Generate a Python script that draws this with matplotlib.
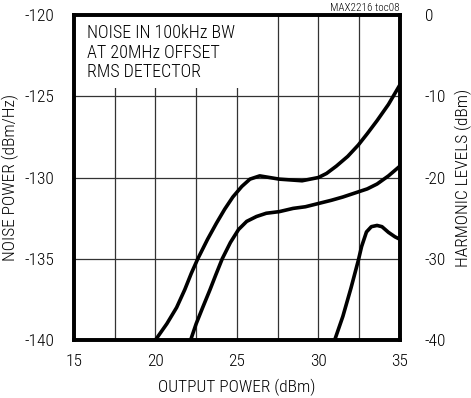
import numpy as np
import matplotlib.pyplot as plt
from matplotlib.patches import Rectangle

plt.rcParams['font.family'] = ['Roboto Condensed', 'DejaVu Sans']
plt.rcParams['font.weight'] = 'light'
plt.rcParams['axes.labelweight'] = 'light'
plt.rcParams['axes.unicode_minus'] = False

# output power (dBm) vs noise power (dBm/Hz), upper trace
upper_x = [20.0, 20.7, 21.3, 21.8, 22.2, 22.6, 23.2, 23.75, 24.25, 24.75, 25.3,
           25.8, 26.4, 27.0, 27.6, 28.3, 29.0, 30.0, 30.5, 31.1, 31.8, 32.45,
           33.0, 33.6, 34.3, 35.0]
upper_y = [-140.0, -139.0, -138.0, -136.9, -135.9, -135.0, -133.8, -132.8, -131.95,
           -131.2, -130.55, -130.1, -129.9, -130.0, -130.1, -130.15, -130.2, -130.0,
           -129.75, -129.3, -128.7, -128.0, -127.3, -126.5, -125.5, -124.3]

# lower noise trace
lower_x = [22.16, 22.5, 22.9, 23.35, 23.7, 24.1, 24.6, 25.1, 25.6, 26.2, 26.8,
           27.6, 28.45, 29.2, 30.0, 30.8, 31.5, 32.4, 33.0, 33.6, 34.3, 35.0]
lower_y = [-140.0, -139.0, -138.0, -136.9, -136.0, -135.0, -134.0, -133.2, -132.7,
           -132.4, -132.2, -132.1, -131.9, -131.8, -131.6, -131.4, -131.2, -130.9,
           -130.7, -130.4, -129.9, -129.3]

# harmonic level (dBm), right axis
harm_x = [31.0, 31.5, 32.0, 32.45, 32.65, 32.95, 33.25, 33.6, 33.9, 34.3, 34.7, 35.0]
harm_y = [-40.0, -37.1, -33.6, -30.2, -28.5, -26.7, -26.05, -25.9, -26.05, -26.75,
          -27.3, -27.6]

x_ticks = [15, 20, 25, 30, 35]
left_ticks = [-140, -135, -130, -125, -120]
right_ticks = [-40, -30, -20, -10, 0]

fig = plt.figure(figsize=(4.71, 3.98), dpi=100)
ax = fig.add_axes([0.157, 0.1457, 0.692, 0.8166])
ax2 = ax.twinx()

ax.set_xlim(15, 35)
ax.set_ylim(-140, -120)
ax2.set_ylim(-40, 0)

ax.set_xticks(x_ticks)
ax.set_xticks(np.arange(15, 35.1, 2.5), minor=True)
ax.set_yticks(left_ticks)
ax2.set_yticks(right_ticks)

ax.set_axisbelow(True)
ax.grid(True, which='both', axis='x', color='#333333', linewidth=0.9)
ax.grid(True, which='major', axis='y', color='#333333', linewidth=0.9)

ax.tick_params(which='both', length=0, labelsize=12.5, pad=14)
ax.tick_params(axis='x', pad=10)
ax2.tick_params(length=0, labelsize=12.5, pad=18)

for a in (ax, ax2):
    for s in a.spines.values():
        s.set_linewidth(2.6)

# blank panel behind the note
ax.add_patch(Rectangle((0, 0.775), 0.56, 0.225, transform=ax.transAxes,
                       facecolor='white', edgecolor='none', zorder=1))

ax.plot(upper_x, upper_y, color='black', linewidth=2.6, solid_capstyle='butt',
        solid_joinstyle='round', zorder=3)
ax.plot(lower_x, lower_y, color='black', linewidth=2.6, solid_capstyle='butt',
        solid_joinstyle='round', zorder=3)
ax2.plot(harm_x, harm_y, color='black', linewidth=2.6, solid_capstyle='butt',
         solid_joinstyle='round', zorder=3)

ax.text(0.04, 0.972, 'NOISE IN 100kHz BW\nAT 20MHz OFFSET\nRMS DETECTOR',
        transform=ax.transAxes, ha='left', va='top', fontsize=13,
        linespacing=1.1, zorder=4)

ax.set_xlabel('OUTPUT POWER (dBm)', fontsize=12.5, labelpad=7)
ax.set_ylabel('NOISE POWER (dBm/Hz)', fontsize=12.5, labelpad=4)
ax2.set_ylabel('HARMONIC LEVELS (dBm)', fontsize=12.5, labelpad=6)

fig.text(400 / 471, 1 - 3 / 398, 'MAX2216 toc08', ha='right', va='top', fontsize=8)

fig.savefig('out.png', dpi=100)
